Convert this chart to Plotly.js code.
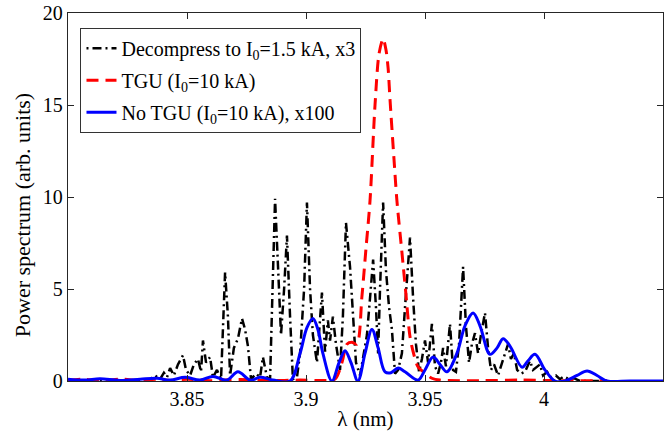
<!DOCTYPE html>
<html>
<head>
<meta charset="utf-8">
<script src="https://cdn.plot.ly/plotly-3.0.1.min.js"></script>
<style>html,body{margin:0;padding:0;background:#fff;} #chart{width:669px;height:435px;}</style>
</head>
<body>
<div id="chart"></div>
<script>
// Decompress to I0=1.5 kA, x3 (black dash-dot)
const blackLambda = [3.8134,3.8303,3.8345,3.8366,3.8387,3.8403,3.8416,3.8429,3.8445,3.8462,3.8483,3.8496,3.8513,3.8529,3.8546,3.8559,3.8567,3.8580,3.8597,3.8609,3.8626,3.8643,3.8660,3.8672,3.8681,3.8697,3.8714,3.8731,3.8744,3.8756,3.8769,3.8790,3.8807,3.8819,3.8836,3.8849,3.8870,3.8882,3.8895,3.8908,3.8920,3.8933,3.8945,3.8962,3.8975,3.8992,3.9004,3.9017,3.9029,3.9046,3.9059,3.9067,3.9080,3.9092,3.9101,3.9113,3.9126,3.9143,3.9155,3.9168,3.9185,3.9197,3.9210,3.9227,3.9244,3.9256,3.9269,3.9282,3.9294,3.9303,3.9311,3.9324,3.9336,3.9349,3.9361,3.9374,3.9387,3.9403,3.9416,3.9429,3.9437,3.9450,3.9462,3.9475,3.9487,3.9500,3.9513,3.9529,3.9542,3.9555,3.9567,3.9576,3.9588,3.9605,3.9618,3.9630,3.9643,3.9660,3.9672,3.9685,3.9697,3.9710,3.9723,3.9735,3.9752,3.9765,3.9777,3.9790,3.9807,3.9824,3.9836,3.9849,3.9861,3.9874,3.9887,3.9903,3.9920,3.9941,3.9954,3.9971,3.9983,3.9996,4.0013,4.0029,4.0050,4.0067,4.0084,4.0105,4.0126,4.0151,4.0235];
const blackPower = [0.0,0.0,0.1,0.3,0.1,0.45,0.2,0.7,0.3,0.9,1.4,0.6,0.3,0.9,1.2,0.5,2.2,1.0,1.3,0.2,0.6,0.1,5.9,3.5,0.3,1.8,2.3,3.4,2.8,1.9,0.1,0.4,0.2,1.3,0.2,0.1,9.9,6.0,2.5,5.0,7.9,3.5,0.1,0.2,1.5,5.0,9.7,5.0,2.5,1.0,3.5,4.8,1.6,3.3,2.2,3.5,2.0,0.6,3.5,8.6,6.2,3.5,1.0,0.3,1.5,2.5,4.5,6.6,4.0,1.5,5.0,9.7,6.0,4.0,2.8,0.4,0.6,1.5,4.0,6.5,7.8,4.5,2.0,0.5,1.2,2.2,1.0,3.1,0.8,0.4,1.0,1.8,0.8,3.1,0.6,0.5,2.0,6.2,3.0,1.0,2.0,2.6,1.5,2.5,3.7,1.8,0.6,0.9,0.3,1.0,1.5,2.0,1.2,1.5,0.6,0.4,0.5,1.1,0.6,0.8,0.9,0.3,0.5,0.2,0.3,0.1,0.25,0.1,0.15,0.0,0.0];

// TGU (I0=10 kA) (red dashed)
const redLambda = [3.8000,3.8059,3.8134,3.8227,3.8303,3.8374,3.8437,3.8500,3.8597,3.8723,3.8849,3.8975,3.9059,3.9122,3.9151,3.9172,3.9193,3.9214,3.9235,3.9252,3.9269,3.9290,3.9307,3.9324,3.9336,3.9345,3.9353,3.9370,3.9382,3.9403,3.9420,3.9437,3.9454,3.9471,3.9500,3.9529,3.9563,3.9731,3.9899,4.0067,4.0265];
const redPower = [0.02,0.1,0.02,0.1,0.02,0.1,0.02,0.1,0.02,0.08,0.02,0.05,0.03,0.1,1.0,2.0,2.1,2.0,4.6,7.2,9.8,15.0,17.8,18.6,18.0,17.0,15.3,12.0,9.8,7.0,4.7,2.4,1.4,0.76,0.43,0.15,0.05,0.02,0.05,0.02,0.02];

// No TGU (I0=10 kA), x100 (blue solid)
const blueLambda = [3.8000,3.8071,3.8134,3.8218,3.8303,3.8374,3.8429,3.8492,3.8555,3.8609,3.8668,3.8714,3.8765,3.8807,3.8861,3.8933,3.8975,3.9004,3.9029,3.9050,3.9071,3.9109,3.9139,3.9164,3.9189,3.9218,3.9248,3.9277,3.9303,3.9332,3.9357,3.9387,3.9416,3.9471,3.9500,3.9534,3.9563,3.9592,3.9634,3.9668,3.9702,3.9731,3.9773,3.9803,3.9828,3.9857,3.9908,3.9933,3.9962,4.0004,4.0046,4.0088,4.0139,4.0181,4.0223,4.0265,4.0361,4.0500];
const bluePower = [0.1,0.05,0.12,0.03,0.1,0.15,0.05,0.2,0.05,0.25,0.05,0.5,0.05,0.2,0.05,0.0,1.5,2.9,3.4,2.8,1.5,0.0,1.0,1.65,1.0,0.0,1.5,2.8,1.8,0.5,0.45,0.7,0.5,0.05,0.6,1.3,0.9,0.5,1.5,3.0,3.7,3.0,1.45,1.8,2.3,1.9,0.75,1.1,1.45,0.6,0.0,0.0,0.3,0.55,0.3,0.0,0.0,0.0];

const xTicks = [3.85, 3.9, 3.95, 4];
const xTickText = ['3.85', '3.9', '3.95', '4'];
const yTicks = [0, 5, 10, 15, 20];

const serif = 'Liberation Serif';

const traces = [
  {x: blackLambda, y: blackPower, type: 'scatter', mode: 'lines',
   name: 'Decompress to I<sub>0</sub>=1.5 kA, x3', legendgroup: 'a',
   line: {color: '#000000', width: 2.5, dash: '2px,4px,9px,4px'}},
  {x: redLambda, y: redPower, type: 'scatter', mode: 'lines',
   name: 'TGU (I<sub>0</sub>=10 kA)', legendgroup: 'b',
   line: {color: '#ff0000', width: 3, dash: '12px,7px', shape: 'spline', smoothing: 0.8}},
  {x: blueLambda, y: bluePower, type: 'scatter', mode: 'lines',
   name: 'No TGU (I<sub>0</sub>=10 kA), x100', legendgroup: 'c',
   line: {color: '#0000ff', width: 3, shape: 'spline', smoothing: 1}}
];

function axisCommon() {
  return {
    showgrid: false, zeroline: false, showline: true, mirror: 'ticks',
    linecolor: '#262626', linewidth: 1.2, ticks: 'inside', ticklen: 6,
    tickcolor: '#262626', tickfont: {family: serif, size: 20, color: '#000'}
  };
}

const layout = {
  width: 669, height: 435,
  margin: {l: 68, r: 6, t: 13, b: 54},
  paper_bgcolor: '#fff', plot_bgcolor: '#fff',
  showlegend: true,
  font: {family: serif, color: '#000'},
  legend: {x: 0.021, y: 0.96, xanchor: 'left', yanchor: 'top',
           bgcolor: '#fff', bordercolor: '#333', borderwidth: 1,
           font: {family: serif, size: 20, color: '#000'},
           traceorder: 'grouped', tracegroupgap: 3},
  xaxis: Object.assign(axisCommon(), {
    range: [3.80, 4.05], tickvals: xTicks, ticktext: xTickText,
    title: {text: 'λ (nm)', font: {family: serif, size: 21, color: '#000'}, standoff: 2}
  }),
  yaxis: Object.assign(axisCommon(), {
    range: [0, 20], tickvals: yTicks
  }),
  annotations: [{
    text: 'Power spectrum (arb. units)', textangle: -90,
    xref: 'paper', yref: 'paper', x: -0.077, y: 0.451,
    xanchor: 'center', yanchor: 'middle', showarrow: false,
    font: {family: serif, size: 22, color: '#000'}
  }]
};

Plotly.newPlot('chart', traces, layout, {displayModeBar: false, staticPlot: true});
</script>
</body>
</html>
